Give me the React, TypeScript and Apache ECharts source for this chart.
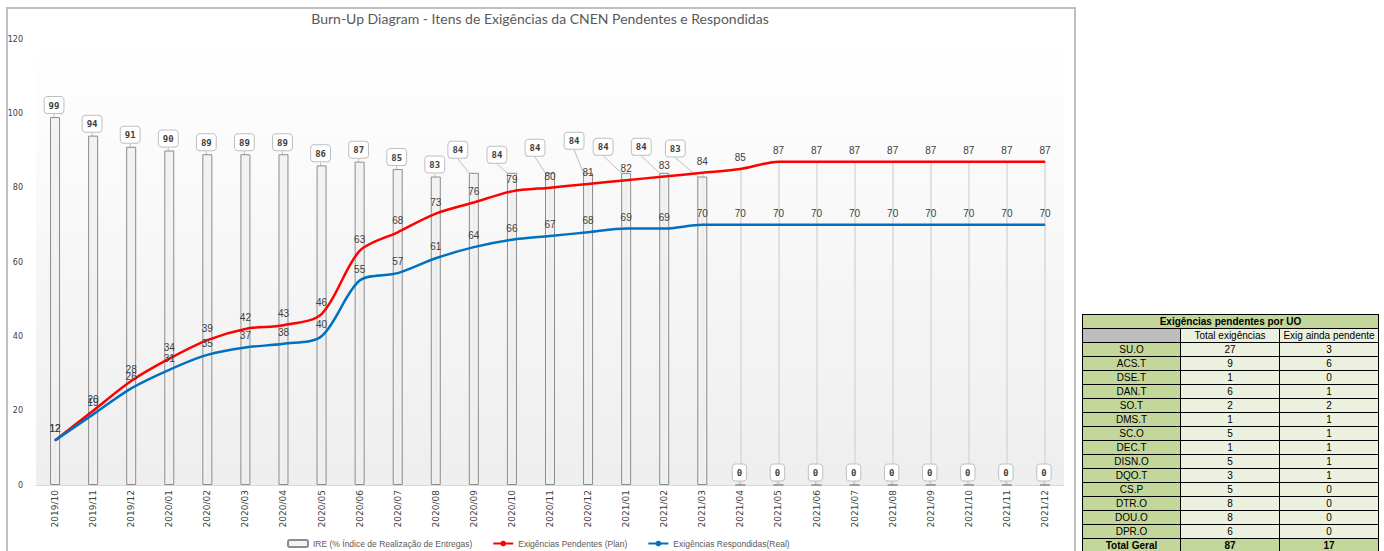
import React, { useEffect, useRef } from "react";
import * as echarts from "echarts";

const categories = [
  "2019/10", "2019/11", "2019/12", "2020/01", "2020/02", "2020/03", "2020/04",
  "2020/05", "2020/06", "2020/07", "2020/08", "2020/09", "2020/10", "2020/11",
  "2020/12", "2021/01", "2021/02", "2021/03", "2021/04", "2021/05", "2021/06",
  "2021/07", "2021/08", "2021/09", "2021/10", "2021/11", "2021/12",
];
const ireValues = [99, 94, 91, 90, 89, 89, 89, 86, 87, 85, 83, 84, 84, 84, 84, 84, 84, 83, 0, 0, 0, 0, 0, 0, 0, 0, 0];
const pendentesPlan = [12, 20, 28, 34, 39, 42, 43, 46, 63, 68, 73, 76, 79, 80, 81, 82, 83, 84, 85, 87, 87, 87, 87, 87, 87, 87, 87];
const respondidasReal = [12, 19, 26, 31, 35, 37, 38, 40, 55, 57, 61, 64, 66, 67, 68, 69, 69, 70, 70, 70, 70, 70, 70, 70, 70, 70, 70];
const yTicks = { min: 0, max: 120, interval: 20 };

const seriesNames = [
  "IRE (% Índice de Realização de Entregas)",
  "Exigências Pendentes (Plan)",
  "Exigências Respondidas(Real)",
];
const chartTitle = "Burn-Up Diagram - Itens de Exigências da CNEN Pendentes e Respondidas";

const tableTitle = "Exigências pendentes por UO";
const tableHeaders = ["Total exigências", "Exig ainda pendente"];
const uoNames = ["SU.O", "ACS.T", "DSE.T", "DAN.T", "SO.T", "DMS.T", "SC.O", "DEC.T", "DISN.O", "DQO.T", "CS.P", "DTR.O", "DOU.O", "DPR.O"];
const uoTotal = [27, 9, 1, 6, 2, 1, 5, 1, 5, 3, 5, 8, 8, 6];
const uoPendente = [3, 6, 0, 1, 2, 1, 1, 1, 1, 1, 0, 0, 0, 0];
const totalLabel = "Total Geral";

// callout label shifts (style only)
const calloutShift: [number, number][] = categories.map((_, i) => {
  const m: Record<number, [number, number]> = {
    11: [-16, -11], 12: [-15, -6], 13: [-15, -13], 14: [-14, -20],
    15: [-23, -14], 16: [-23, -14], 17: [-27, -16],
  };
  return m[i] || [-1, 0];
});

const FONT = "'DejaVu Sans', sans-serif";

function Chart() {
  const ref = useRef<HTMLDivElement>(null);
  useEffect(() => {
    if (!ref.current) return;
    const chart = echarts.init(ref.current, undefined, { renderer: "svg" });
    const option: any = {
      animation: false,
      backgroundColor: "#ffffff",
      title: {
        text: chartTitle,
        left: 535,
        top: 6,
        textAlign: "center",
        textStyle: { fontFamily: "Lato, sans-serif", fontSize: 14, fontWeight: "normal", color: "#595959" },
      },
      graphic: [
        {
          type: "rect",
          silent: true,
          z: -10,
          shape: { x: 7, y: 8, width: 1068, height: 580 },
          style: { fill: "none", stroke: "#bfbfbf", lineWidth: 2 },
        },
      ],
      legend: {
        data: seriesNames,
        left: 282,
        top: 534,
        itemWidth: 20,
        itemHeight: 7,
        itemGap: 20,
        textStyle: { fontFamily: "'Liberation Sans', sans-serif", fontSize: 8.5, color: "#595959" },
      },
      grid: {
        left: 36,
        right: 320,
        top: 39,
        bottom: 66,
        show: true,
        borderWidth: 0,
        backgroundColor: new echarts.graphic.LinearGradient(0, 0, 0, 1, [
          { offset: 0, color: "#ffffff" },
          { offset: 1, color: "#eeeeee" },
        ]),
      },
      xAxis: {
        type: "category",
        data: categories,
        boundaryGap: true,
        axisLine: { lineStyle: { color: "#d9d9d9" } },
        axisTick: { show: false },
        axisLabel: { rotate: 90, fontSize: 9, color: "#404040", margin: 5, fontFamily: FONT, interval: 0 },
      },
      yAxis: {
        type: "value",
        min: yTicks.min,
        max: yTicks.max,
        interval: yTicks.interval,
        splitLine: { show: false },
        axisLine: { show: false },
        axisTick: { show: false },
        axisLabel: { fontSize: 8, color: "#404040", margin: 13, fontFamily: FONT },
      },
      series: [
        {
          name: "_drop",
          type: "line",
          z: 1,
          data: pendentesPlan,
          symbol: "none",
          silent: true,
          lineStyle: { opacity: 0, width: 0 },
          markLine: {
            silent: true,
            z: 1,
            symbol: ["none", "none"],
            label: { show: false },
            lineStyle: { color: "#d9d9d9", width: 1.5, type: "solid" },
            data: pendentesPlan.map((v, i) => [
              { coord: [categories[i], v] },
              { coord: [categories[i], 0] },
            ]),
          },
        },
        {
          name: seriesNames[0],
          type: "bar",
          z: 3,
          data: ireValues,
          barWidth: 10,
          itemStyle: { color: "rgba(240,240,240,0.8)", borderColor: "#8c8c8c", borderWidth: 1 },
          label: {
            show: true,
            position: "top",
            distance: 4,
            fontFamily: "'DejaVu Sans Mono', monospace",
            fontSize: 9,
            fontWeight: "bold",
            color: "#404040",
            backgroundColor: "#ffffff",
            borderColor: "#bfbfbf",
            borderWidth: 1,
            borderRadius: 3,
            padding: [4, 4, 3, 4],
          },
          labelLine: { show: true, lineStyle: { color: "#bfbfbf", width: 1 } },
          labelLayout: (p: any) => {
            const s = calloutShift[p.dataIndex] || [0, 0];
            return { dx: s[0], dy: s[1] };
          },
        },
        {
          name: seriesNames[1],
          type: "line",
          z: 4,
          data: pendentesPlan,
          smooth: 0.3,
          symbol: "circle",
          symbolSize: 1,
          showSymbol: true,
          itemStyle: { color: "#ff0000" },
          lineStyle: { color: "#ff0000", width: 2.5 },
          label: { show: true, position: "top", distance: 6, fontSize: 10, color: "#404040", fontFamily: "'Liberation Sans', sans-serif" },
        },
        {
          name: seriesNames[2],
          type: "line",
          z: 4,
          data: respondidasReal,
          smooth: 0.3,
          symbol: "circle",
          symbolSize: 1,
          showSymbol: true,
          itemStyle: { color: "#0070c0" },
          lineStyle: { color: "#0070c0", width: 2.5 },
          label: { show: true, position: "top", distance: 6, fontSize: 10, color: "#404040", fontFamily: "'Liberation Sans', sans-serif" },
        },
      ],
    };
    chart.setOption(option);
    return () => chart.dispose();
  }, []);
  return <div ref={ref} style={{ position: "absolute", left: 0, top: 0, width: 1384, height: 551 }} />;
}

function UoTable() {
  const dark = "#c4d79b";
  const light = "#ebf1de";
  const cell: React.CSSProperties = {
    border: "1px solid #000",
    padding: 0,
    height: 13,
    lineHeight: "13px",
    textAlign: "center",
    fontSize: 10,
    color: "#000",
    whiteSpace: "nowrap",
    overflow: "hidden",
  };
  const sumTotal = uoTotal.reduce((a, b) => a + b, 0);
  const sumPend = uoPendente.reduce((a, b) => a + b, 0);
  return (
    <table
      style={{
        position: "absolute",
        left: 1082,
        top: 314,
        borderCollapse: "collapse",
        tableLayout: "fixed",
        width: 296,
        fontFamily: "'Liberation Sans', Arial, sans-serif",
      }}
    >
      <colgroup>
        <col style={{ width: 98 }} />
        <col style={{ width: 99 }} />
        <col style={{ width: 99 }} />
      </colgroup>
      <tbody>
        <tr>
          <td colSpan={3} style={{ ...cell, background: dark, fontWeight: "bold" }}>{tableTitle}</td>
        </tr>
        <tr>
          <td
            style={{
              ...cell,
              background: "repeating-conic-gradient(#7a7a7a 0 25%, #ffffff 0 50%) 0 0 / 2px 2px",
            }}
          ></td>
          <td style={{ ...cell, background: light }}>{tableHeaders[0]}</td>
          <td style={{ ...cell, background: light }}>{tableHeaders[1]}</td>
        </tr>
        {uoNames.map((n, i) => (
          <tr key={n}>
            <td style={{ ...cell, background: dark }}>{n}</td>
            <td style={{ ...cell, background: light }}>{uoTotal[i]}</td>
            <td style={{ ...cell, background: light }}>{uoPendente[i]}</td>
          </tr>
        ))}
        <tr>
          <td style={{ ...cell, background: dark, fontWeight: "bold" }}>{totalLabel}</td>
          <td style={{ ...cell, background: dark, fontWeight: "bold" }}>{sumTotal}</td>
          <td style={{ ...cell, background: dark, fontWeight: "bold" }}>{sumPend}</td>
        </tr>
      </tbody>
    </table>
  );
}

export default function App() {
  return (
    <div style={{ position: "absolute", left: 0, top: 0, width: 1384, height: 551, overflow: "hidden", background: "#fff" }}>
      <Chart />
      <UoTable />
    </div>
  );
}
